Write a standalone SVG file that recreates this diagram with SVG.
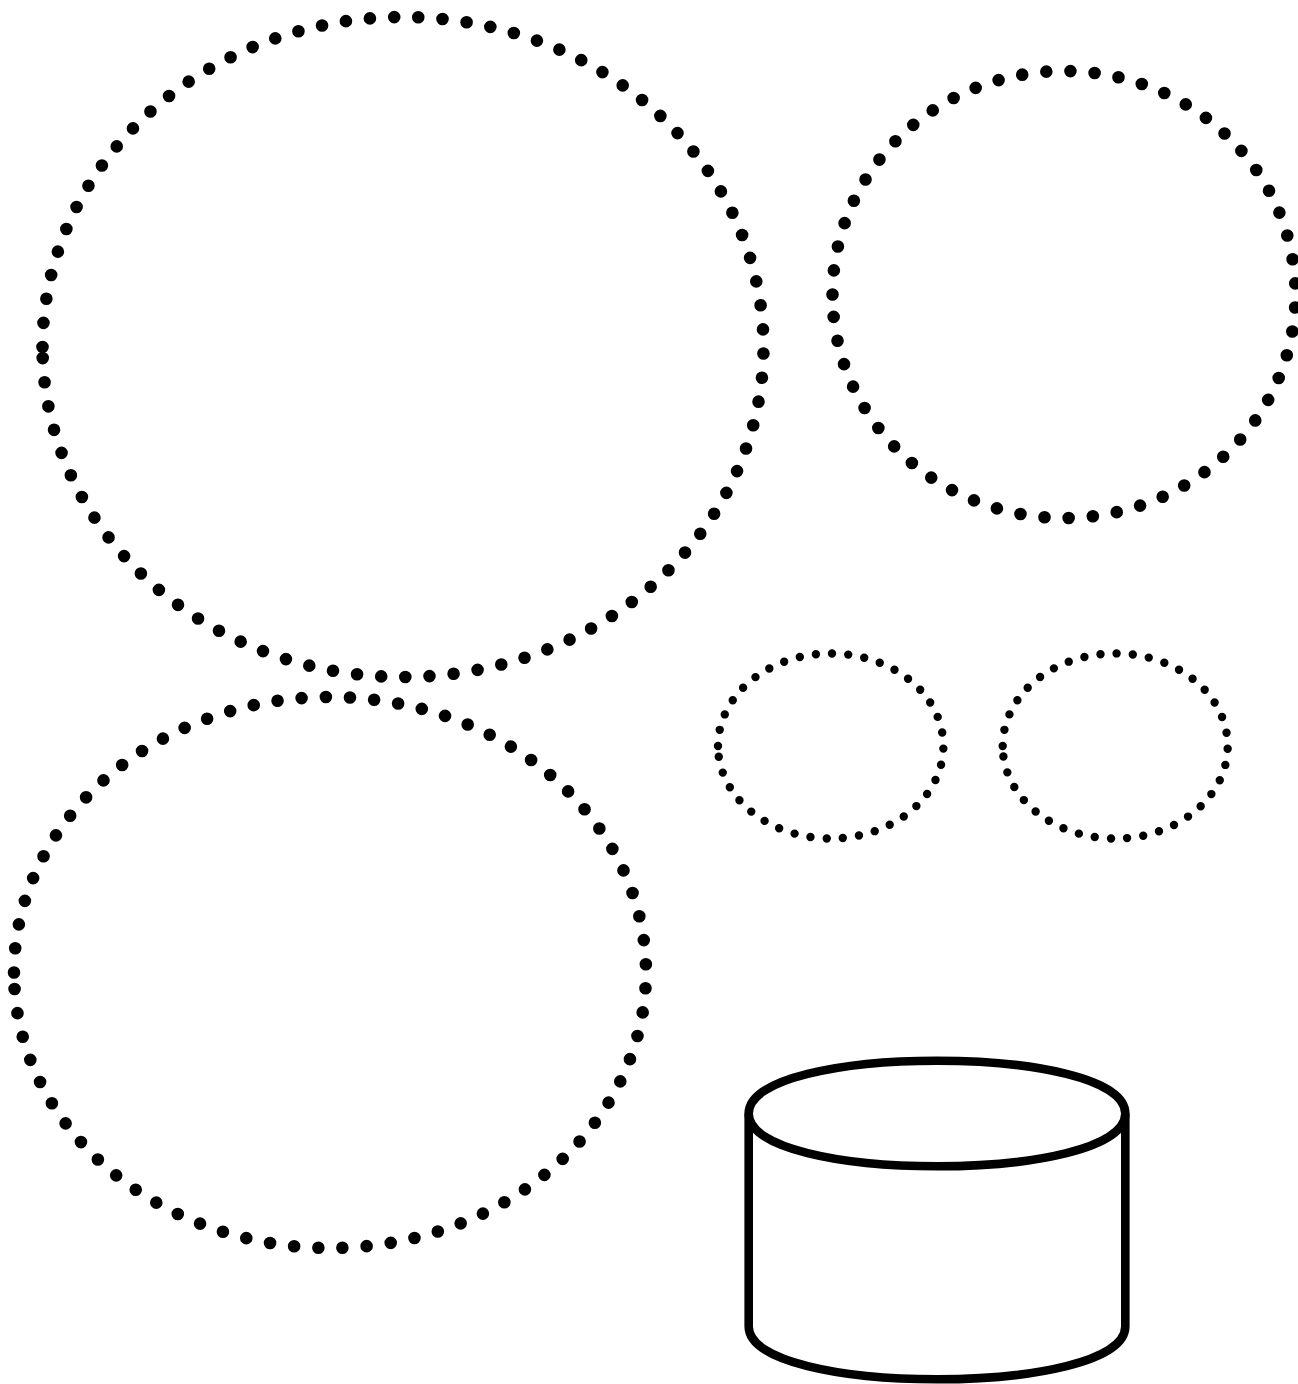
<svg xmlns="http://www.w3.org/2000/svg" width="1298" height="1384" viewBox="0 0 1298 1384">
<style>
.big{fill:none;stroke:#000;stroke-width:12.6;stroke-linecap:round;stroke-dasharray:0 24.25}
.small{fill:none;stroke:#000;stroke-width:8.4;stroke-linecap:round;stroke-dasharray:0 16.27}
.cyl{fill:#fff;stroke:#000;stroke-width:8.6}
</style>
<rect width="1298" height="1384" fill="#fff"/>
<g id="c1"><path class="big" d="M42.500 347A360.500 330 0 1 1 763.500 347A360.500 330 0 1 1 42.500 347Z"/></g>
<g id="c2"><path class="big" d="M832.500 294.500A231.500 223.500 0 1 1 1295.500 294.500A231.500 223.500 0 1 1 832.500 294.500Z"/></g>
<g id="c3"><path class="big" d="M14 972.500A316 275.500 0 1 1 646 972.500A316 275.500 0 1 1 14 972.500Z"/></g>
<g id="c4"><path class="small" d="M718 746A112.700 92.500 0 1 1 943.400 746A112.700 92.500 0 1 1 718 746Z"/></g>
<g id="c5"><path class="small" d="M1002.700 746A112.500 92.500 0 1 1 1227.700 746A112.500 92.500 0 1 1 1002.700 746Z"/></g>
<g id="db">
<path class="cyl" d="M748.700 1113.500V1326.500C748.700 1396.900 1125.300 1396.900 1125.300 1326.500V1113.500"/>
<path class="cyl" d="M748.700 1113.500C748.700 1043.100 1125.300 1043.100 1125.300 1113.500C1125.300 1183.900 748.700 1183.900 748.700 1113.500Z"/>
</g>
</svg>
